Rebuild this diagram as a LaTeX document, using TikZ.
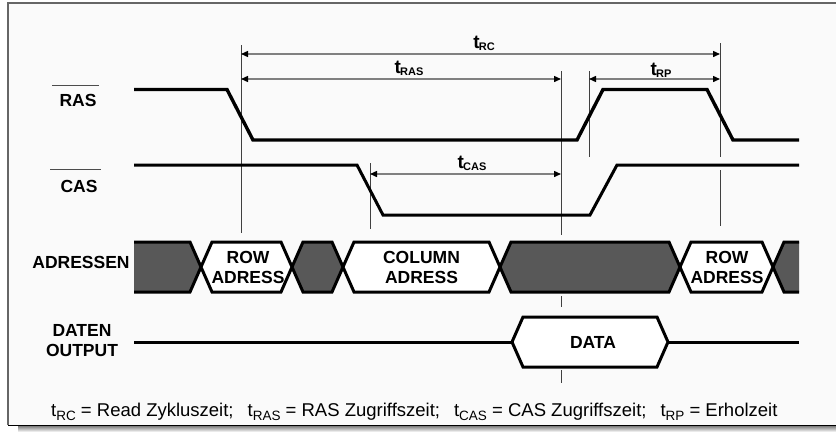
\documentclass[tikz,border=0pt]{standalone}
\usepackage{fontspec}
\setmainfont{Liberation Sans}
\usetikzlibrary{arrows.meta,positioning}
\definecolor{busgray}{RGB}{88,88,88}
\definecolor{panel}{RGB}{250,250,250}
\definecolor{dimgray}{RGB}{128,128,128}
\definecolor{shade}{RGB}{192,192,192}
\newcommand{\tlab}[1]{t\kern-0.8pt\raisebox{-2.5pt}{\fontsize{11}{11}\selectfont #1}}
\newcommand{\tleg}[1]{t\raisebox{-4pt}{\fontsize{13.5}{13.5}\selectfont #1}}

\begin{document}
\begin{tikzpicture}[x=1pt, y=-1pt, every node/.style={font=\bfseries\fontsize{17.5}{20}\selectfont, inner sep=0pt},
  sig/.style={line width=3.4pt},
  bus/.style={line width=3pt, draw=black},
  tick/.style={draw=black!75, line width=0.9pt},
  dim/.style={draw=dimgray, line width=1.4pt, {Triangle[length=7pt,width=6pt,color=black]}-{Triangle[length=7pt,width=6pt,color=black]}},
  tname/.style={font=\bfseries\fontsize{19}{19}\selectfont, anchor=base}]
\useasboundingbox (0,0) rectangle (836,432);
% frame
\fill[white] (0,0) rectangle (836,432);
\fill[panel] (8,3) rectangle (836,425);
\fill[shade] (18,426) rectangle (836,432);
\draw[black!60, line width=1.8pt] (836,3) -- (8,3) -- (8,425);
\draw[black, line width=1pt] (8,425) -- (836,425);

% signal names
\node[anchor=base] (lblRAS) at (78,106) {RAS};
\node[anchor=base] (lblCAS) at (79,192) {CAS};
\node[anchor=base] (lblAdr) at (81,268) {ADRESSEN};
\node[anchor=base, align=center] (lblDat) at (82,356) {DATEN\\OUTPUT};
\draw[black!70, line width=0.9pt] ([shift={(-7,-8)}]lblRAS.north west) -- ([shift={(2,-8)}]lblRAS.north east);
\draw[black!70, line width=0.9pt] ([shift={(-10,-10)}]lblCAS.north west) -- ([shift={(3,-10)}]lblCAS.north east);

% reference lines
\draw[tick] (241,45) -- (241,233);
\draw[tick] (370,163) -- (370,229);
\draw[tick] (561,71) -- (561,235) (561,296) -- (561,307) (561,370) -- (561,383);
\draw[tick] (589,71) -- (589,157);
\draw[tick] (720,43) -- (720,157) (720,170) -- (720,226);

% waveforms
\draw[sig] (134,89.5) -- (227,89.5) -- (253,140) -- (577,140) -- (603,89.5) -- (707,89.5) -- (733,140) -- (799,140);
\draw[line width=3pt] (134,165) -- (357,165) -- (383,215) -- (590,215) -- (617,165) -- (799,165);

% address bus
\fill[busgray] (134,242) -- (190,242) -- (201,267) -- (190,292) -- (134,292) -- cycle;
\draw[bus] (134,242) -- (190,242) -- (201,267) -- (190,292) -- (134,292);
\foreach \xa/\xb/\col in {201/292/white, 292/343/busgray, 343/500/white, 500/680/busgray, 680/773/white}
  \filldraw[bus, fill=\col] (\xa,267) -- (\xa+11,242) -- (\xb-11,242) -- (\xb,267) -- (\xb-11,292) -- (\xa+11,292) -- cycle;
\fill[busgray] (799,242) -- (784,242) -- (773,267) -- (784,292) -- (799,292) -- cycle;
\draw[bus] (799,242) -- (784,242) -- (773,267) -- (784,292) -- (799,292);
\node[align=center] (rowA) at (248,267) {ROW\\ADRESS};
\node[align=center] (colA) at (421.5,267) {COLUMN\\ADRESS};
\node[align=center] (rowB) at (727,267) {ROW\\ADRESS};

% data output
\filldraw[bus, fill=white] (512,342) -- (523,317) -- (657,317) -- (668,342) -- (657,367) -- (523,367) -- cycle;
\draw[bus] (134,342) -- (512,342) (668,342) -- (799,342);
\node (data) at (593,342) {DATA};

% timing intervals
\coordinate (rcL) at (241,54);  \coordinate (rcR) at (720,54);
\coordinate (rasL) at (241,79); \coordinate (rasR) at (561,79);
\coordinate (rpL) at (589,79);  \coordinate (rpR) at (720,79);
\coordinate (casL) at (370,174); \coordinate (casR) at (561,174);
\draw[dim] (rcL) -- (rcR);
\draw[dim] (rasL) -- (rasR);
\draw[dim] (rpL) -- (rpR);
\draw[dim] (casL) -- (casR);
\node[tname] (tRC) at (484,48) {\tlab{RC}};
\node[tname] (tRAS) at (409,73) {\tlab{RAS}};
\node[tname] (tRP) at (661,75) {\tlab{RP}};
\node[tname] (tCAS) at (472,168) {\tlab{CAS}};

% legend
\node[font=\fontsize{18.5}{18.5}\selectfont, anchor=base west] (legend) at (51,416)
  {\tleg{RC} = Read Zykluszeit;\hspace{14pt}\tleg{RAS} = RAS Zugriffszeit;\hspace{14pt}\tleg{CAS} = CAS Zugriffszeit;\hspace{14pt}\tleg{RP} = Erholzeit};
\end{tikzpicture}
\end{document}
